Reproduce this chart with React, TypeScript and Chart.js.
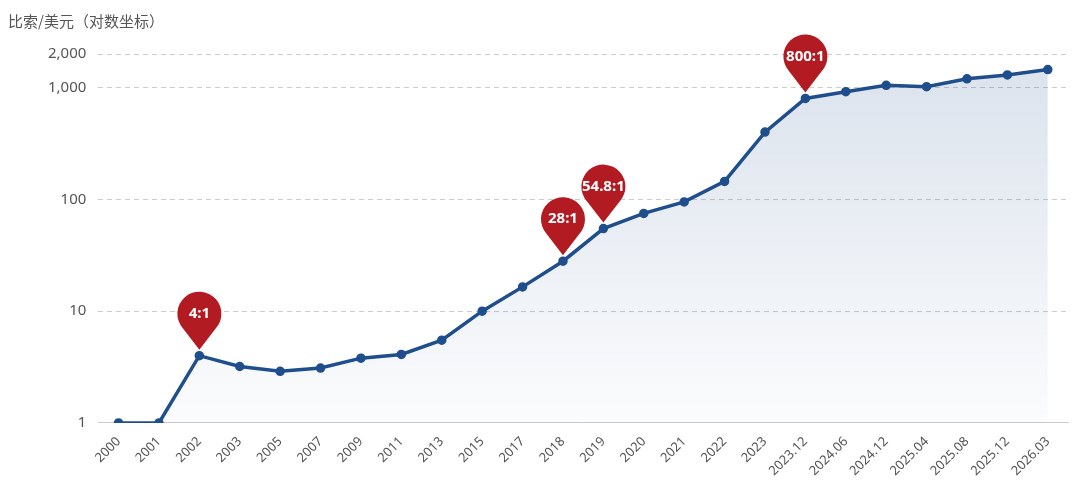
import React, { useEffect, useRef } from "react";
import { Chart, registerables } from "chart.js";
Chart.register(...registerables);

const categories = ["2000","2001","2002","2003","2005","2007","2009","2011","2013","2015","2017","2018","2019","2020","2021","2022","2023","2023.12","2024.06","2024.12","2025.04","2025.08","2025.12","2026.03"];
const rates = [1,1,4,3.2,2.9,3.1,3.8,4.1,5.5,10,16.5,28,54.8,75,95,145,400,800,920,1050,1020,1200,1300,1450];
const yTicks = [1,10,100,1000,2000];
const pinIndexes = [2,11,12,17];
const pinLabels = ["4:1","28:1","54.8:1","800:1"];

export default function App() {
  const ref = useRef<HTMLCanvasElement>(null);
  useEffect(() => {
    const ctx = ref.current!.getContext("2d")!;
    const pinPlugin = {
      id: "pins",
      afterDatasetsDraw(chart: any) {
        const c = chart.ctx;
        const meta = chart.getDatasetMeta(0);
        pinIndexes.forEach((idx, k) => {
          const p = meta.data[idx];
          const x = p.x, tipY = p.y - 6, cy = p.y - 42, r = 22;
          c.save();
          c.fillStyle = "#b31b22";
          c.beginPath();
          c.moveTo(x, tipY);
          c.lineTo(x - r * 0.75, cy + r * 0.66);
          c.arc(x, cy, r, Math.PI * 0.77, Math.PI * 0.23, false);
          c.closePath();
          c.fill();
          c.fillStyle = "#fff";
          c.font = "bold 15px 'Noto Sans', sans-serif";
          c.textAlign = "center";
          c.textBaseline = "middle";
          c.fillText(pinLabels[k], x, cy);
          c.restore();
        });
        c.save();
        c.fillStyle = "#555";
        c.font = "15px 'Noto Sans CJK SC', sans-serif";
        c.textBaseline = "middle";
        c.fillText("比索/美元（对数坐标）", 8, 21);
        c.restore();
      },
    };
    const grad = ctx.createLinearGradient(0, 60, 0, 420);
    grad.addColorStop(0, "rgba(31,78,140,0.16)");
    grad.addColorStop(1, "rgba(31,78,140,0.02)");
    const chart = new Chart(ctx, {
      type: "line",
      data: {
        labels: categories,
        datasets: [{
          data: rates,
          borderColor: "#1f4e8c",
          backgroundColor: grad,
          fill: "start",
          borderWidth: 3.5,
          pointRadius: 3,
          pointBackgroundColor: "#1f4e8c",
          pointBorderColor: "#1f4e8c",
          tension: 0,
        }],
      },
      options: {
        animation: false,
        responsive: false,
        layout: { padding: { top: 54, right: 12, left: 36, bottom: 0 } },
        plugins: { legend: { display: false }, tooltip: { enabled: false } },
        scales: {
          x: {
            offset: true,
            grid: { display: false, drawTicks: true },
            border: { color: "#ccc" },
            ticks: { color: "#555", font: { size: 13, family: "'Noto Sans', sans-serif" }, maxRotation: 45, minRotation: 45, autoSkip: false },
          },
          y: {
            type: "logarithmic",
            min: 1,
            max: 2000,
            afterBuildTicks(axis: any) { axis.ticks = yTicks.map((v) => ({ value: v })); },
            grid: { color: "#ccc", drawTicks: false, tickLength: 0 },
            border: { display: false, dash: [5, 4] },
            ticks: {
              color: "#555", padding: 12,
              font: { size: 15, family: "'Noto Sans', sans-serif" },
              callback: (v: any) => Number(v).toLocaleString("en-US"),
            },
          },
        },
      },
      plugins: [pinPlugin],
    });
    return () => chart.destroy();
  }, []);
  return (
    <div style={{ position: "absolute", left: 0, top: 0, width: 1080, height: 482, background: "#fff" }}>
      <canvas ref={ref} width={1080} height={482} style={{ width: 1080, height: 482 }} />
    </div>
  );
}
